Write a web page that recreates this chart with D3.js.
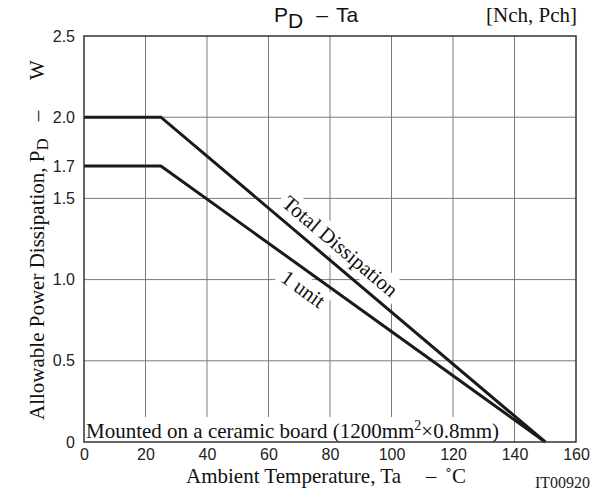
<!DOCTYPE html>
<html>
<head>
<meta charset="utf-8">
<script src="https://cdn.jsdelivr.net/npm/d3@7"></script>
<style>
  body { margin: 0; background: #fff; }
  svg { display: block; }
</style>
</head>
<body>
<div id="chart"></div>
<script>
// data
const tempTicks = [0, 20, 40, 60, 80, 100, 120, 140, 160];
const powerTicks = [0, 0.5, 1.0, 1.5, 1.7, 2.0, 2.5];
const powerGrid = [0.5, 1.0, 1.5, 2.0];
const totalTa = [0, 25, 150];
const totalPd = [2.0, 2.0, 0];
const unitTa = [0, 25, 150];
const unitPd = [1.7, 1.7, 0];

const width = 605, height = 492;
const margin = {top: 36, right: 29, bottom: 50, left: 84};
const serif = "'Liberation Serif', 'Times New Roman', serif";
const sans = "'Liberation Sans', Arial, sans-serif";

const svg = d3.select("#chart").append("svg")
    .attr("width", width)
    .attr("height", height);

const x = d3.scaleLinear().domain([0, 160]).range([margin.left, width - margin.right]);
const y = d3.scaleLinear().domain([0, 2.5]).range([height - margin.bottom, margin.top]);

// grid
const grid = svg.append("g").attr("class", "grid");
grid.selectAll(".vgrid").data(tempTicks.slice(1, -1)).enter()
    .append("line")
    .attr("class", "vgrid")
    .attr("x1", d => x(d)).attr("x2", d => x(d))
    .attr("y1", y(0)).attr("y2", y(2.5))
    .attr("stroke", "#7a7a7a").attr("stroke-width", 1);
grid.selectAll(".hgrid").data(powerGrid).enter()
    .append("line")
    .attr("class", "hgrid")
    .attr("x1", x(0)).attr("x2", x(160))
    .attr("y1", d => y(d)).attr("y2", d => y(d))
    .attr("stroke", "#7a7a7a").attr("stroke-width", 1);

// label layer (white boxes break the grid)
const labels = svg.append("g");

function boxedText(g, pad) {
    const t = g.select("text").node().getBBox();
    g.insert("rect", "text")
        .attr("x", t.x - pad[0]).attr("y", t.y - pad[1])
        .attr("width", t.width + 2 * pad[0]).attr("height", t.height + 2 * pad[1])
        .attr("fill", "#fff");
}

// bottom note
const note = labels.append("g");
const noteText = note.append("text")
    .attr("x", x(0) + 2).attr("y", y(0) - 4)
    .attr("font-family", serif).attr("font-size", 21).attr("fill", "#111");
noteText.append("tspan").text("Mounted on a ceramic board (1200mm");
noteText.append("tspan").attr("dy", -8).attr("font-size", 14).text("2");
noteText.append("tspan").attr("dy", 8).text("\u00d70.8mm)");
boxedText(note, [2, 1]);

// labels along the lines
function lineLabel(ta, pd, taAt, txt, offset, size) {
    const dx = x(ta[2]) - x(ta[1]);
    const dy = y(pd[2]) - y(pd[1]);
    const ang = Math.atan2(dy, dx);
    const frac = (taAt - ta[1]) / (ta[2] - ta[1]);
    const px = x(taAt);
    const py = y(pd[1] + (pd[2] - pd[1]) * frac);
    const cx = px + Math.sin(ang) * offset;
    const cy = py - Math.cos(ang) * offset;
    const g = labels.append("g")
        .attr("transform", `translate(${cx},${cy}) rotate(${ang * 180 / Math.PI})`);
    g.append("text")
        .attr("text-anchor", "middle")
        .attr("dy", "0.33em")
        .attr("font-family", serif).attr("font-size", size).attr("fill", "#111")
        .text(txt);
    boxedText(g, [4, 1]);
}
lineLabel(totalTa, totalPd, 79.7, "Total Dissipation", 17, 21);
lineLabel(unitTa, unitPd, 74.5, "1 unit", -17, 21);

// curves
const line = d3.line().x(d => x(d[0])).y(d => y(d[1]));
svg.append("path")
    .datum(d3.zip(totalTa, totalPd))
    .attr("d", line)
    .attr("fill", "none").attr("stroke", "#1a1a1a").attr("stroke-width", 3)
    .attr("stroke-linejoin", "miter");
svg.append("path")
    .datum(d3.zip(unitTa, unitPd))
    .attr("d", line)
    .attr("fill", "none").attr("stroke", "#1a1a1a").attr("stroke-width", 3)
    .attr("stroke-linejoin", "miter");

// frame
svg.append("rect")
    .attr("x", x(0)).attr("y", y(2.5))
    .attr("width", x(160) - x(0)).attr("height", y(0) - y(2.5))
    .attr("fill", "none").attr("stroke", "#333").attr("stroke-width", 1.5);

// axes (labels only)
const xAxis = svg.append("g")
    .attr("transform", `translate(0,${y(0)})`)
    .call(d3.axisBottom(x).tickValues(tempTicks).tickSize(0).tickPadding(7).tickFormat(d3.format("d")));
const yAxis = svg.append("g")
    .attr("transform", `translate(${x(0)},0)`)
    .call(d3.axisLeft(y).tickValues(powerTicks).tickSize(0).tickPadding(9)
        .tickFormat(d => d === 0 ? "0" : d3.format(".1f")(d)));
[xAxis, yAxis].forEach(a => {
    a.select(".domain").remove();
    a.selectAll("text").attr("font-family", sans).attr("font-size", 16).attr("fill", "#222");
});

// chart title: P_D – Ta
const title = svg.append("g")
    .attr("font-family", sans).attr("font-size", 21).attr("fill", "#111");
const tMain = title.append("text").attr("x", 274).attr("y", 22);
tMain.append("tspan").text("P");
tMain.append("tspan").attr("dy", 6).text("D");
title.append("text").attr("x", 322).attr("y", 22).attr("text-anchor", "middle").text("\u2013");
title.append("text").attr("x", 336).attr("y", 22).text("Ta");

svg.append("text")
    .attr("x", x(160) + 1).attr("y", 22)
    .attr("text-anchor", "end")
    .attr("font-family", serif).attr("font-size", 21).attr("fill", "#111")
    .text("[Nch, Pch]");

// y title, rotated; x in this frame is -page y
const yTitle = svg.append("g")
    .attr("transform", "translate(44,0) rotate(-90)")
    .attr("font-family", serif).attr("font-size", 21).attr("fill", "#111");
const yMain = yTitle.append("text").attr("x", -420).attr("y", 0);
yMain.append("tspan").text("Allowable Power Dissipation, P");
yMain.append("tspan").attr("dy", 4).attr("font-size", 17).text("D");
yTitle.append("text").attr("x", -116).attr("y", 0).attr("text-anchor", "middle").text("\u2013");
yTitle.append("text").attr("x", -70).attr("y", 0).attr("text-anchor", "middle").text("W");

// x title
const xTitle = svg.append("g")
    .attr("font-family", serif).attr("font-size", 21).attr("fill", "#111");
xTitle.append("text").attr("x", 186).attr("y", 483).text("Ambient Temperature, Ta");
xTitle.append("text").attr("x", 431).attr("y", 483).attr("text-anchor", "middle").text("\u2013");
xTitle.append("text").attr("x", 445).attr("y", 483).text("\u02daC");

svg.append("text")
    .attr("x", 590).attr("y", 488)
    .attr("text-anchor", "end")
    .attr("font-family", serif).attr("font-size", 16).attr("fill", "#222")
    .text("IT00920");
</script>
</body>
</html>
